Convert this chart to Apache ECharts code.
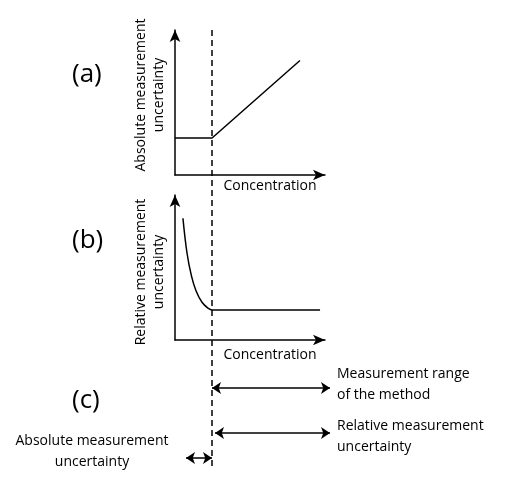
<!DOCTYPE html>
<html><head><meta charset="utf-8">
<script src="https://cdn.jsdelivr.net/npm/echarts@6/dist/echarts.min.js"></script>
<style>body{margin:0}#chart{width:512px;height:480px;background:#fff}</style>
</head><body><div id="chart"></div>
<script>
var myChart = echarts.init(document.getElementById('chart'));

// (a) absolute uncertainty: flat then linear
var absUnc = [[0, 2.55], [2.47, 2.55], [8.33, 7.9]];
// (b) relative uncertainty: decaying then flat
var relUnc = [[0.53, 8.4], [0.8, 6.0], [1.1, 4.4], [1.4, 3.4], [1.8, 2.6], [2.2, 2.2], [2.47, 2.07], [9.67, 2.07]];
// overlay (page units): dashed limit line and range arrows
var dashLine = [[212, 30], [212, 470]];
var rangeArrows = [
    [[212, 388], [330, 388]],
    [[215, 433], [330, 433]],
    [[186, 458], [212, 458]]
];

var font = 'Open Sans';
function axisPair(idx) {
    return {
        x: {gridIndex: idx, type: 'value', min: 0, max: 10,
            axisLine: {lineStyle: {color: '#000', width: 1.5}, symbol: ['none', 'arrow'], symbolSize: [8, 12]},
            axisTick: {show: false}, axisLabel: {show: false}, splitLine: {show: false}},
        y: {gridIndex: idx, type: 'value', min: 0, max: 10,
            axisLine: {lineStyle: {color: '#000', width: 1.5}, symbol: ['none', 'arrow'], symbolSize: [8, 12]},
            axisTick: {show: false}, axisLabel: {show: false}, splitLine: {show: false}}
    };
}
var a = axisPair(0), b = axisPair(1);

option = {
    animation: false,
    grid: [
        {left: 175, top: 30, width: 150, height: 145},
        {left: 175, top: 195, width: 150, height: 145},
        {left: 0, top: 0, width: 512, height: 480}
    ],
    xAxis: [a.x, b.x, {gridIndex: 2, type: 'value', min: 0, max: 512, show: false}],
    yAxis: [a.y, b.y, {gridIndex: 2, type: 'value', min: 0, max: 480, inverse: true, show: false}],
    series: [
        {type: 'line', xAxisIndex: 0, yAxisIndex: 0, data: absUnc, symbol: 'none',
            lineStyle: {color: '#000', width: 1.5}},
        {type: 'line', xAxisIndex: 1, yAxisIndex: 1, data: relUnc, symbol: 'none', smooth: 0.4,
            lineStyle: {color: '#000', width: 1.5}},
        {type: 'line', xAxisIndex: 2, yAxisIndex: 2, data: dashLine, symbol: 'none',
            lineStyle: {color: '#000', width: 1.5, type: [6, 4]}}
    ].concat(rangeArrows.map(function (seg) {
        return {type: 'lines', coordinateSystem: 'cartesian2d', xAxisIndex: 2, yAxisIndex: 2,
            symbol: ['arrow', 'arrow'], symbolSize: 9,
            lineStyle: {color: '#000', width: 1.5, opacity: 1},
            data: [{coords: seg}]};
    })),
    graphic: [
        {type: 'text', left: 72, top: 62, style: {text: '(a)', font: '26px ' + font, fill: '#000'}},
        {type: 'text', left: 72, top: 228, style: {text: '(b)', font: '26px ' + font, fill: '#000'}},
        {type: 'text', left: 72, top: 388, style: {text: '(c)', font: '26px ' + font, fill: '#000'}},
        {type: 'text', x: 270, y: 186, style: {text: 'Concentration', font: '14px ' + font, align: 'center', verticalAlign: 'middle'}},
        {type: 'text', x: 270, y: 355, style: {text: 'Concentration', font: '14px ' + font, align: 'center', verticalAlign: 'middle'}},
        {type: 'text', x: 150, y: 95, rotation: Math.PI / 2,
            style: {text: 'Absolute measurement\nuncertainty', font: '14px ' + font, align: 'center', verticalAlign: 'middle', lineHeight: 18}},
        {type: 'text', x: 150, y: 272, rotation: Math.PI / 2,
            style: {text: 'Relative measurement\nuncertainty', font: '14px ' + font, align: 'center', verticalAlign: 'middle', lineHeight: 18}},
        {type: 'text', left: 337, top: 364, style: {text: 'Measurement range\nof the method', font: '14px ' + font, lineHeight: 21}},
        {type: 'text', left: 337, top: 416, style: {text: 'Relative measurement\nuncertainty', font: '14px ' + font, lineHeight: 21}},
        {type: 'text', x: 92, y: 452, style: {text: 'Absolute measurement\nuncertainty', font: '14px ' + font, align: 'center', verticalAlign: 'middle', lineHeight: 21}}
    ]
};

myChart.setOption(option);
</script></body></html>
